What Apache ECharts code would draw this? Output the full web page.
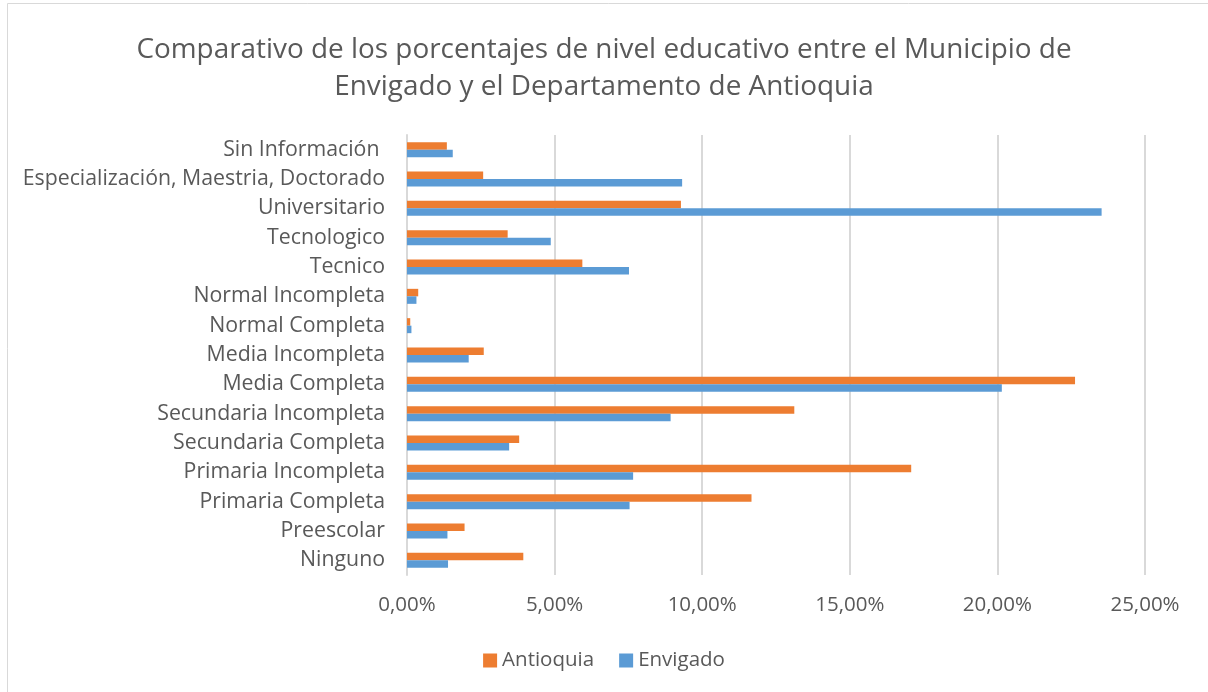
<!DOCTYPE html>
<html>
<head>
<meta charset="utf-8">
<script src="https://cdn.jsdelivr.net/npm/echarts@6/dist/echarts.min.js"></script>
<style>
html,body{margin:0;padding:0;background:#fff;}
#chart{width:1208px;height:692px;}
</style>
</head>
<body>
<div id="chart"></div>
<script>
const categories = ["Ninguno","Preescolar","Primaria Completa","Primaria Incompleta","Secundaria Completa","Secundaria Incompleta","Media Completa","Media Incompleta","Normal Completa","Normal Incompleta","Tecnico","Tecnologico","Universitario","Especialización, Maestria, Doctorado","Sin Información "];
const antioquia = [3.94,1.95,11.67,17.08,3.80,13.12,22.63,2.60,0.11,0.38,5.94,3.41,9.28,2.58,1.35];
const envigado = [1.39,1.37,7.54,7.66,3.46,8.93,20.15,2.09,0.15,0.32,7.52,4.87,23.53,9.32,1.55];
const xTicks = [0,5,10,15,20,25];
const titleText = "Comparativo de los porcentajes de nivel educativo entre el Municipio de\nEnvigado y el Departamento de Antioquia";

const FONT = "Open Sans";
const TXT = "#595959";
const chart = echarts.init(document.getElementById('chart'), null, {renderer:'canvas'});
chart.setOption({
  animation:false,
  textStyle:{fontFamily:FONT},
  graphic:[{type:'rect',shape:{x:7.5,y:3.5,width:1230,height:720},style:{fill:'none',stroke:'#d9d9d9',lineWidth:1},silent:true,z:-1}],
  title:{text:titleText,left:'center',top:27,textStyle:{fontFamily:FONT,fontSize:27.9,fontWeight:'normal',color:TXT,lineHeight:37}},
  legend:{data:['Antioquia','Envigado'],top:645,left:'center',itemWidth:14,itemHeight:14,itemGap:25,icon:'rect',textStyle:{fontFamily:FONT,fontSize:20.5,color:TXT,padding:[0,0,0,0]}},
  grid:{left:407,right:63,top:135,bottom:117,containLabel:false},
  xAxis:{type:'value',min:0,max:25,interval:5,
    axisLabel:{fontFamily:FONT,fontSize:20.5,color:TXT,margin:20,formatter:v=>v.toFixed(2).replace('.',',')+'%'},
    splitLine:{lineStyle:{color:'#d9d9d9',width:2}},axisLine:{show:false},axisTick:{show:false}},
  yAxis:{type:'category',data:categories,
    axisLabel:{fontFamily:FONT,fontSize:21.3,color:TXT,margin:22},
    axisLine:{lineStyle:{color:'#d9d9d9',width:2}},axisTick:{show:false}},
  series:[
    {name:'Antioquia',type:'bar',data:antioquia,barWidth:7.5,barGap:'0%',itemStyle:{color:'#ed7d31'}},
    {name:'Envigado',type:'bar',data:envigado,barWidth:7.5,barGap:'0%',itemStyle:{color:'#5b9bd5'}}
  ]
});
</script>
</body>
</html>
